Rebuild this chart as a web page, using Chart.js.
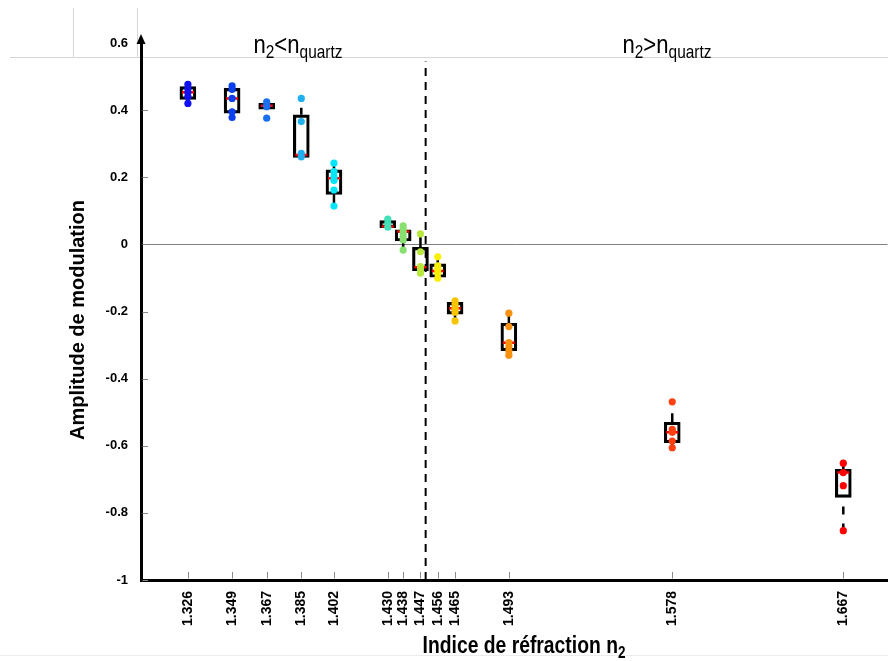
<!DOCTYPE html>
<html><head><meta charset="utf-8">
<script src="https://cdn.jsdelivr.net/npm/chart.js@4.4.0/dist/chart.umd.min.js"></script>
<style>
html,body{margin:0;padding:0;background:#fff;overflow:hidden;}
#wrap{position:relative;width:888px;height:661px;overflow:hidden;font-family:"Liberation Sans",Arial,sans-serif;}
#c{position:absolute;left:0;top:0;}
.sheet{position:absolute;background:#d6d6d6;}
.lbl{position:absolute;white-space:nowrap;color:#000;line-height:1;}
.sub{font-size:0.7em;position:relative;top:0.3em;}
</style></head><body>
<div id="wrap">
<div class="sheet" style="left:10px;top:57px;width:878px;height:1px"></div>
<div class="sheet" style="left:73px;top:8px;width:1px;height:49px"></div>
<div class="sheet" style="left:137px;top:8px;width:1px;height:49px"></div>
<div class="sheet" style="left:0px;top:655px;width:888px;height:1px;background:#ececec"></div>
<canvas id="c" width="896" height="661"></canvas>
<div class="lbl" style="left:298px;top:31px;font-size:26px;transform:translateX(-50%) scaleX(0.85)">n<span class="sub">2</span>&lt;n<span class="sub">quartz</span></div>
<div class="lbl" style="left:667px;top:31px;font-size:26px;transform:translateX(-50%) scaleX(0.85)">n<span class="sub">2</span>&gt;n<span class="sub">quartz</span></div>
<div class="lbl" style="left:524px;top:634px;font-size:23px;font-weight:bold;transform:translateX(-50%) scaleX(0.84)">Indice de réfraction n<span class="sub">2</span></div>
<div class="lbl" style="left:77px;top:320px;font-size:20px;font-weight:bold;transform:translate(-50%,-50%) rotate(-90deg)">Amplitude de modulation</div>
</div>
<script>
const nValues = [1.326, 1.349, 1.367, 1.385, 1.402, 1.430, 1.438, 1.447, 1.456, 1.465, 1.493, 1.578, 1.667];
const tickLabels = ['1.326','1.349','1.367','1.385','1.402','1.430','1.438','1.447','1.456','1.465','1.493','1.578','1.667'];
const boxHigh = [0.470, 0.465, 0.420, 0.386, 0.222, 0.071, 0.043, -0.009, -0.058, -0.173, -0.235, -0.530, -0.670];
const boxLow  = [0.432, 0.391, 0.403, 0.259, 0.149, 0.050, 0.010, -0.078, -0.098, -0.208, -0.317, -0.591, -0.754];
const medians = [0.453, 0.435, 0.413, 0.266, 0.197, 0.053, 0.038, -0.068, -0.079, -0.190, -0.293, -0.560, -0.680];
const whiskerHigh = [0.477, 0.472, 0.425, 0.407, 0.242, 0.075, 0.055, 0.028, -0.037, -0.168, -0.205, -0.503, -0.652];
const whiskerLow  = [0.420, 0.378, 0.403, 0.259, 0.122, 0.050, -0.009, -0.086, -0.101, -0.228, -0.330, -0.606, -0.853];
const dashedLowWhisker = [false,false,false,false,false,false,false,false,false,false,false,false,true];
const samples = [
  [0.477, 0.465, 0.453, 0.440, 0.420],
  [0.472, 0.462, 0.435, 0.395, 0.378],
  [0.425, 0.415, 0.410, 0.376],
  [0.435, 0.366, 0.271, 0.261],
  [0.242, 0.217, 0.202, 0.190, 0.162, 0.114],
  [0.075, 0.063, 0.051],
  [0.055, 0.045, 0.035, 0.023, 0.013, -0.017],
  [0.031, -0.022, -0.066, -0.076, -0.086],
  [-0.037, -0.064, -0.076, -0.086, -0.101],
  [-0.168, -0.178, -0.190, -0.202, -0.228],
  [-0.205, -0.245, -0.293, -0.305, -0.317, -0.330],
  [-0.469, -0.551, -0.560, -0.586, -0.606],
  [-0.652, -0.680, -0.719, -0.853]
];
const sampleColors = ['#1010f0','#0a40f0','#1a70f0','#20b0f0','#00e6f8','#40e0b8','#88e070','#b8e840','#f8f000','#f8c400','#f89010','#ff4010','#ff0000'];
const yTickValues = [0.6, 0.4, 0.2, 0, -0.2, -0.4, -0.6, -0.8, -1];
const yTickLabels = ['0.6','0.4','0.2','0','-0.2','-0.4','-0.6','-0.8','-1'];
const quartzIndex = 1.4497;
const quartzLineTop = 0.545;

const FONT = '"Liberation Sans", Arial, sans-serif';

function whiskerData(dashed) {
  const pts = [];
  nValues.forEach((x, i) => {
    if (!dashed && whiskerHigh[i] > boxHigh[i]) pts.push({x, y: boxHigh[i]}, {x, y: whiskerHigh[i]}, {x, y: null});
    if (whiskerLow[i] < boxLow[i] && dashedLowWhisker[i] === dashed) pts.push({x, y: boxLow[i]}, {x, y: whiskerLow[i]}, {x, y: null});
  });
  return pts;
}

const pointData = [], pointCols = [];
samples.forEach((arr, i) => arr.forEach(y => { pointData.push({x: nValues[i], y}); pointCols.push(sampleColors[i]); }));

const decor = {
  id: 'decor',
  afterDraw(chart) {
    const {ctx, chartArea, scales} = chart;
    const xs = scales.x, ys = scales.y;
    ctx.save();
    ctx.strokeStyle = '#8a8a8a';
    ctx.lineWidth = 1;
    ys.ticks.forEach(t => {
      if (t.value === yTickValues[0]) return;
      const py = Math.round(ys.getPixelForValue(t.value)) + 0.5;
      ctx.beginPath(); ctx.moveTo(chartArea.left + 1.5, py); ctx.lineTo(chartArea.left + 7, py); ctx.stroke();
    });
    xs.ticks.forEach(t => {
      const px = Math.round(xs.getPixelForValue(t.value)) + 0.5;
      ctx.beginPath(); ctx.moveTo(px, chartArea.bottom - 1.5); ctx.lineTo(px, chartArea.bottom - 8); ctx.stroke();
    });
    const ax = chartArea.left;
    ctx.fillStyle = '#000';
    ctx.beginPath();
    ctx.moveTo(ax, chartArea.top - 9);
    ctx.lineTo(ax - 4.5, chartArea.top + 1);
    ctx.lineTo(ax + 4.5, chartArea.top + 1);
    ctx.closePath();
    ctx.fill();
    ctx.restore();
  }
};

new Chart(document.getElementById('c'), {
  type: 'scatter',
  data: {
    datasets: [
      {type: 'line', data: [{x: quartzIndex, y: -1}, {x: quartzIndex, y: quartzLineTop}], borderColor: '#000', borderWidth: 2, borderDash: [8, 6], pointRadius: 0, order: 5},
      {type: 'line', data: whiskerData(false), borderColor: '#000', borderWidth: 2.5, pointRadius: 0, spanGaps: false, order: 4},
      {type: 'line', data: whiskerData(true), borderColor: '#000', borderWidth: 2.5, borderDash: [8, 9], borderDashOffset: 8, pointRadius: 0, spanGaps: false, order: 4},
      {type: 'bar', data: nValues.map((x, i) => ({x, y: [boxLow[i], boxHigh[i]]})), backgroundColor: 'rgba(0,0,0,0)', borderColor: '#000', borderWidth: 2.5, borderSkipped: false, barThickness: 16, grouped: false, order: 3},
      {type: 'scatter', data: nValues.map((x, i) => ({x, y: medians[i]})), pointStyle: 'line', pointRadius: 6, borderColor: '#ff0000', pointBorderColor: '#ff0000', borderWidth: 2.5, pointBorderWidth: 2.5, order: 2},
      {type: 'scatter', data: pointData, pointBackgroundColor: pointCols, pointBorderWidth: 0, pointRadius: 3.6, order: 1}
    ]
  },
  options: {
    responsive: false,
    animation: false,
    events: [],
    layout: {padding: {top: 43, right: 0, left: 0, bottom: 0}},
    plugins: {legend: {display: false}, tooltip: {enabled: false}},
    scales: {
      x: {
        type: 'linear', min: 1.3016, max: 1.69, offset: false,
        afterBuildTicks: s => { s.ticks = nValues.map(v => ({value: v})); },
        afterFit: s => { s.height = 81; },
        ticks: {autoSkip: false, minRotation: 90, maxRotation: 90, padding: 11, color: '#000',
          font: {family: FONT, size: 14, weight: 'bold'}, callback: (v, i) => tickLabels[i]},
        grid: {display: false, drawTicks: false, offset: false},
        border: {display: true, color: '#000', width: 3}
      },
      y: {
        min: -1, max: 0.6,
        afterBuildTicks: s => { s.ticks = yTickValues.map(v => ({value: v})); },
        afterFit: s => { s.width = 141; },
        ticks: {padding: 13, color: '#000', font: {family: FONT, size: 13, weight: 'bold'}, callback: (v, i) => yTickLabels[i]},
        grid: {drawTicks: false, lineWidth: 1, color: c => (c.tick && c.tick.value === 0) ? '#808080' : 'rgba(0,0,0,0)'},
        border: {display: true, color: '#000', width: 3}
      }
    }
  },
  plugins: [decor]
});
</script>
</body></html>
